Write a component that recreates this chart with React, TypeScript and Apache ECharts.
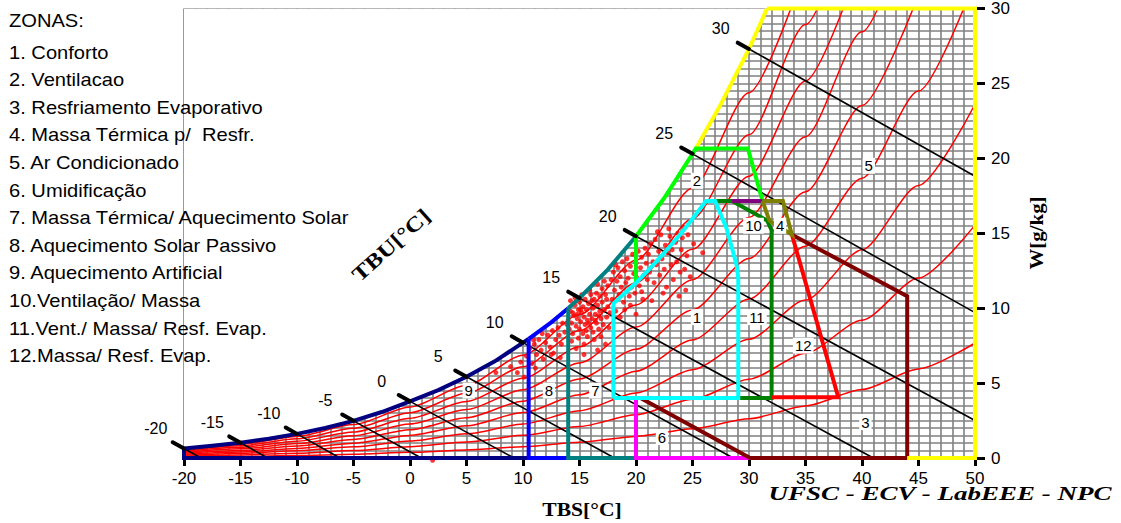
import React, { useEffect, useRef } from "react";
import * as echarts from "echarts";

// ---------- axes ----------
const xMin = -20, xMax = 50, xStep = 5;
const yMin = 0, yMax = 30, yStep = 5;

// ---------- saturation curve (TBS °C, W g/kg) ----------
const satT = [-20, -17.5, -15, -12.5, -10, -7.5, -5, -2.5, 0, 2.5, 5, 7.5, 10, 10.5, 12.5, 14, 15, 17.5, 20, 22.5, 25, 25.3, 27.5, 30, 31.6];
const satW = [0.63, 0.81, 1.02, 1.28, 1.61, 2.0, 2.48, 3.07, 3.78, 4.53, 5.42, 6.45, 7.7, 7.95, 9.05, 10.0, 10.68, 12.57, 14.8, 17.35, 20.3, 20.65, 23.6, 27.3, 30];

// ---------- relative humidity curves ----------
const rhTemps = [-20, -15, -10, -5, 0, 5, 10, 15, 20, 25, 30, 35, 40, 45, 50];
const rhLevels = [10, 20, 30, 40, 50, 60, 70, 80, 90];
const rh10 = [0.063, 0.102, 0.16, 0.248, 0.377, 0.536, 0.755, 1.049, 1.439, 1.952, 2.618, 3.474, 4.566, 5.946, 7.676];
const rh20 = [0.127, 0.203, 0.32, 0.495, 0.754, 1.073, 1.512, 2.101, 2.885, 3.916, 5.258, 6.988, 9.2, 12.007, 15.544];
const rh30 = [0.19, 0.305, 0.48, 0.743, 1.132, 1.611, 2.27, 3.157, 4.338, 5.893, 7.92, 10.541, 13.903, 18.186, 23.611];
const rh40 = [0.254, 0.406, 0.64, 0.99, 1.51, 2.15, 3.031, 4.217, 5.797, 7.882, 10.605, 14.135, 18.677, 24.486, 31.885];
const rh50 = [0.317, 0.508, 0.8, 1.238, 1.888, 2.69, 3.793, 5.28, 7.264, 9.883, 13.313, 17.77, 23.522, 30.912];
const rh60 = [0.38, 0.61, 0.96, 1.486, 2.266, 3.231, 4.557, 6.347, 8.737, 11.898, 16.045, 21.446, 28.442, 37.47];
const rh70 = [0.444, 0.711, 1.12, 1.733, 2.645, 3.772, 5.323, 7.417, 10.217, 13.925, 18.8, 25.165, 33.437];
const rh80 = [0.507, 0.813, 1.28, 1.981, 3.023, 4.315, 6.091, 8.491, 11.704, 15.966, 21.579, 28.927, 38.51];
const rh90 = [0.571, 0.914, 1.44, 2.228, 3.402, 4.859, 6.86, 9.569, 13.198, 18.019, 24.382, 32.733];
const rhCurves = [rh10, rh20, rh30, rh40, rh50, rh60, rh70, rh80, rh90];

// ---------- wet-bulb (TBU) lines ----------
const wbT = [-20, -15, -10, -5, 0, 5, 10, 15, 20, 25, 30];
const wbSatW = [0.63, 1.02, 1.61, 2.48, 3.78, 5.42, 7.7, 10.68, 14.8, 20.3, 27.3];
const wbEndT = [-18.5, -12.6, -6.2, 1.0, 9.2, 18.1, 28.6, 41.0, 50, 50, 50];
const wbEndW = [0, 0, 0, 0, 0, 0, 0, 0, 2.5, 9.7, 18.8];

// ---------- zone outlines ----------
const zoneComfort = [[18, 4], [18, 10.31], [19, 11.0], [20, 11.7], [21, 12.45], [22.5, 13.69], [24, 15.0], [25, 15.97], [26.2, 17.15], [27.0, 17.15], [28.0, 15.35], [28.9, 12.9], [29.05, 12.0], [29.05, 4], [18, 4]];
const zoneVentTop = [[25.3, 20.65], [29.9, 20.65], [31.2, 17.15]];
const zoneVentLeft = [[20, 11.7], [20, 14.8]];
const zoneAcTop = [[31.6, 30], [50, 30], [50, 0], [44, 0]];
const zoneHumid = [[20, 4], [20, 0], [30.1, 0]];
const zoneEvap = [[20.4, 4], [30.1, 0], [44, 0], [44, 10.8], [33.8, 14.9]];
const zoneVentMassEvap = [[27.0, 17.15], [28.5, 17.15], [31.6, 15.85], [32.0, 15.2], [32.0, 4], [29.05, 4]];
const zoneVentMass = [[28.5, 17.15], [31.2, 17.15]];
const zoneMassCool = [[31.2, 17.15], [33.0, 17.15], [33.8, 14.9], [31.8, 15.85], [31.2, 17.15]];
const zoneMassEvap = [[33.8, 14.9], [37.9, 4.05], [32.0, 4.05]];
const zoneArtificialBase = [[10.5, 0], [-20, 0], [-20, 0.63]];
const zonePassiveBase = [[14, 0], [10.5, 0], [10.5, 7.95]];
const zoneSolarBase = [[20, 0], [14, 0], [14, 10.0]];

// ---------- zone labels ----------
const zoneLabelText = ["1", "2", "3", "4", "5", "6", "7", "8", "9", "10", "11", "12"];
const zoneLabelT = [25.4, 25.4, 40.3, 32.75, 40.6, 22.3, 16.4, 12.3, 5.2, 30.4, 30.7, 34.8];
const zoneLabelW = [9.4, 18.5, 2.4, 15.5, 19.5, 1.4, 4.5, 4.5, 4.5, 15.5, 9.4, 7.5];

// ---------- legend ----------
const legendTitle = "ZONAS:";
const zoneNames = [
  "1. Conforto",
  "2. Ventilacao",
  "3. Resfriamento Evaporativo",
  "4. Massa Térmica p/  Resfr.",
  "5. Ar Condicionado",
  "6. Umidificação",
  "7. Massa Térmica/ Aquecimento Solar",
  "8. Aquecimento Solar Passivo",
  "9. Aquecimento Artificial",
  "10.Ventilação/ Massa",
  "11.Vent./ Massa/ Resf. Evap.",
  "12.Massa/ Resf. Evap.",
];

// ---------- climate data points (TBS °C, W g/kg) ----------
const climatePoints: [number, number][] = [
  [2.0, -0.15], [7.6, 5.7], [9.5, 5.7], [8.9, 6.1], [10.1, 5.4], [9.8, 6.4],
  [10.3, 6.8], [10.6, 7.3], [10.8, 6.3], [11.0, 7.6], [11.2, 6.9], [11.4, 7.9], [11.6, 7.2], [11.8, 6.6], [12.0, 7.7], [12.2, 8.2],
  [12.4, 7.4], [12.6, 8.5], [12.7, 7.0], [12.9, 7.9], [13.1, 8.7], [13.2, 8.2], [13.4, 7.6], [13.5, 9.0], [13.7, 8.4], [13.9, 8.9],
  [11.1, 6.0], [12.5, 6.9], [13.3, 6.7], [10.9, 7.9], [11.7, 8.3],
  [14.0, 9.2], [14.1, 8.6], [14.2, 9.8], [14.3, 9.0], [14.4, 8.3], [14.5, 9.5], [14.6, 10.2], [14.7, 8.8], [14.8, 9.3], [14.9, 9.9],
  [15.0, 8.6], [15.0, 10.4], [15.1, 9.1], [15.2, 9.7], [15.3, 8.3], [15.3, 10.1], [15.4, 9.4], [15.5, 8.9], [15.5, 10.6], [15.6, 9.9],
  [15.7, 9.2], [15.7, 8.1], [15.8, 10.3], [15.9, 9.6], [16.0, 8.7], [16.0, 10.9], [16.1, 9.3], [16.2, 10.0], [16.2, 8.4], [16.3, 10.6],
  [16.4, 9.6], [16.5, 9.0], [16.5, 11.0], [16.6, 10.2], [16.7, 8.6], [16.8, 9.8], [16.8, 10.8], [16.9, 9.3], [17.0, 10.4], [17.0, 11.3],
  [17.1, 8.9], [17.2, 9.9], [17.3, 10.9], [17.4, 9.4], [17.5, 11.5], [17.5, 10.1], [17.6, 8.7], [14.3, 7.8], [14.9, 8.0], [15.4, 7.6],
  [16.3, 7.9], [16.9, 8.1], [15.2, 10.9], [14.6, 10.7], [15.9, 11.2], [16.6, 11.6], [14.2, 10.5], [15.6, 8.5], [16.4, 9.2], [17.2, 11.8],
  [14.8, 9.6], [15.8, 9.0], [16.1, 10.5], [17.4, 10.6], [16.7, 9.5], [15.1, 9.9], [14.4, 9.7], [17.7, 9.7],
  [15.4, 6.9], [16.6, 7.2], [17.3, 7.6], [14.7, 7.3],
  [17.8, 11.9], [17.9, 10.6], [18.0, 12.4], [18.1, 11.2], [18.2, 9.8], [18.3, 11.8], [18.4, 12.7], [18.5, 10.9], [18.6, 12.1], [18.7, 11.4],
  [18.8, 13.1], [18.9, 10.4], [19.0, 12.5], [19.1, 11.7], [19.2, 13.3], [19.3, 12.0], [19.4, 10.8], [19.5, 12.8], [19.6, 11.4], [19.7, 13.6],
  [19.8, 12.3], [19.9, 11.0], [20.0, 13.0], [20.1, 12.0], [20.2, 13.8], [20.3, 11.5], [20.4, 12.7], [20.5, 13.4], [20.6, 10.6], [20.7, 12.2],
  [20.8, 14.0], [20.9, 13.0], [21.0, 11.9], [18.2, 12.9], [19.0, 9.9], [19.5, 10.2], [20.0, 9.6], [18.6, 9.4], [20.5, 11.1],
  [21.1, 13.6], [21.2, 12.4], [21.3, 14.3], [21.5, 13.1], [21.6, 11.7], [21.7, 14.6], [21.8, 12.9], [22.0, 13.8], [22.1, 12.2], [22.2, 14.9],
  [22.3, 13.3], [22.5, 12.6], [22.6, 14.2], [22.7, 11.4], [22.8, 13.7], [23.0, 14.8], [23.1, 12.9], [23.2, 13.9], [23.3, 11.9], [23.5, 14.4],
  [23.6, 13.1], [23.7, 15.0], [23.9, 12.4], [24.0, 13.9], [24.1, 14.7], [24.3, 12.6], [24.5, 13.5], [24.6, 14.9], [24.8, 12.1], [25.1, 14.3],
  [25.9, 13.7], [24.4, 11.2], [22.4, 11.0], [23.8, 10.8], [21.4, 10.5], [22.9, 15.3], [24.2, 15.4], [21.9, 15.1],
];

// ---------- colours ----------
const NAVY = "#000080", BLUE = "#0000ff", TEAL = "#008080", GREEN = "#00ff00", CYAN = "#00ffff", YELLOW = "#ffff00";
const MAGENTA = "#ff00ff", DARKRED = "#800000", DARKGREEN = "#008000", PURPLE = "#800080", OLIVE = "#808000", RED = "#ff0000";
const GRID_GRAY = "#808080";

const satRange = (a: number, b: number) =>
  satT.map((t, i) => [t, satW[i]]).filter((p) => p[0] >= a - 1e-9 && p[0] <= b + 1e-9);

const SANS = '"Liberation Sans", Arial, sans-serif';
const SERIF = '"Liberation Serif", "Times New Roman", serif';

function outline(data: number[][], color: string, width = 4) {
  return {
    type: "line",
    data,
    symbol: "none",
    clip: false,
    silent: true,
    lineStyle: { color, width, join: "miter" },
    z: 5,
  };
}

export default function App() {
  const ref = useRef<HTMLDivElement>(null);

  useEffect(() => {
    if (!ref.current) return;
    const chart = echarts.init(ref.current, undefined, { renderer: "svg" });

    const series: any[] = [];

    // white mask above saturation curve
    series.push({
      type: "line",
      data: satT.map((t, i) => [t, satW[i]]),
      symbol: "none",
      silent: true,
      lineStyle: { width: 0, opacity: 0 },
      areaStyle: { color: "#ffffff", opacity: 1, origin: "end" },
      z: 2,
    });

    // RH curves
    rhCurves.forEach((row, k) => {
      series.push({
        type: "line",
        name: "UR " + rhLevels[k] + "%",
        data: row.map((w, j) => [rhTemps[j], w]),
        symbol: "none",
        smooth: 0.25,
        smoothMonotone: "x",
        silent: true,
        lineStyle: { color: RED, width: 1.5 },
        z: 3,
      });
    });

    // wet-bulb lines
    wbT.forEach((t, i) => {
      series.push({
        type: "line",
        data: [[t, wbSatW[i]], [wbEndT[i], wbEndW[i]]],
        symbol: "none",
        silent: true,
        lineStyle: { color: "#000", width: 1.6 },
        z: 3,
      });
    });

    // climate points
    series.push({
      type: "scatter",
      data: climatePoints,
      symbolSize: 5,
      clip: false,
      itemStyle: { color: RED },
      silent: true,
      z: 4,
    });

    // zone outlines
    series.push(outline(satRange(-20, 10.5), NAVY));
    series.push(outline(zoneArtificialBase, NAVY));
    series.push(outline(zonePassiveBase, BLUE));
    series.push(outline(satRange(10.5, 14), BLUE));
    series.push(outline(zoneSolarBase, TEAL));
    series.push(outline(satRange(14, 20), TEAL));
    series.push(outline(zoneHumid, MAGENTA));
    series.push(outline(zoneEvap, DARKRED));
    series.push(outline(zoneAcTop, YELLOW));
    series.push(outline(satRange(25.3, 31.6), YELLOW));
    series.push(outline(zoneVentLeft, GREEN));
    series.push(outline(satRange(20, 25.3).concat(zoneVentTop), GREEN));
    series.push(outline(zoneVentMassEvap, DARKGREEN));
    series.push(outline(zoneMassEvap, RED));
    series.push(outline(zoneComfort, CYAN));
    series.push(outline(zoneVentMass, PURPLE));
    series.push(outline(zoneMassCool, OLIVE));

    // wet-bulb stubs + labels
    series.push({
      type: "custom",
      coordinateSystem: "cartesian2d",
      data: wbT.map((t, i) => [t, wbSatW[i]]),
      silent: true,
      clip: false,
      z: 6,
      renderItem: (params: any, api: any) => {
        const t = api.value(0), w = api.value(1);
        const a = api.coord([t, w]);
        const b = api.coord([t - 1, w + 0.42]);
        const c = api.coord([t - 2.5, w + 1.34]);
        return {
          type: "group",
          children: [
            { type: "line", shape: { x1: a[0], y1: a[1], x2: b[0], y2: b[1] }, style: { stroke: "#000", lineWidth: 4, lineCap: "round" } },
            {
              type: "text",
              x: c[0],
              y: c[1],
              style: {
                text: String(wbT[params.dataIndex]),
                fill: "#000",
                font: `16px ${SANS}`,
                align: "center",
                verticalAlign: "middle",
              },
            },
          ],
        };
      },
    });

    // zone number labels
    series.push({
      type: "custom",
      coordinateSystem: "cartesian2d",
      data: zoneLabelT.map((t, i) => [t, zoneLabelW[i]]),
      silent: true,
      clip: false,
      z: 7,
      renderItem: (params: any, api: any) => {
        const p = api.coord([api.value(0), api.value(1)]);
        return {
          type: "text",
          x: p[0],
          y: p[1],
          style: {
            text: zoneLabelText[params.dataIndex],
            fill: "#000",
            font: `15px ${SANS}`,
            align: "center",
            verticalAlign: "middle",
            backgroundColor: "#ffffff",
            padding: [1, 2, 0, 2],
          },
        };
      },
    });

    const graphic: any[] = [
      {
        type: "text",
        x: 9,
        y: 21,
        z: 100,
        scaleX: 1.15,
        style: { text: legendTitle, fill: "#000", font: `17.5px ${SANS}`, align: "left", verticalAlign: "middle" },
      },
      ...zoneNames.map((n, i) => ({
        type: "text",
        x: 9,
        y: 52.5 + i * 27.6,
        z: 100,
        scaleX: 1.15,
        style: { text: n, fill: "#000", font: `17.5px ${SANS}`, align: "left", verticalAlign: "middle" },
      })),
      {
        type: "text",
        x: 391,
        y: 245,
        z: 100,
        rotation: (42 * Math.PI) / 180,
        scaleX: 1.2,
        style: { text: "TBU[°C]", fill: "#000", font: `bold 21px ${SERIF}`, align: "center", verticalAlign: "middle" },
      },
      {
        type: "text",
        x: 582,
        y: 510,
        z: 100,
        scaleX: 1.2,
        style: { text: "TBS[°C]", fill: "#000", font: `bold 18px ${SERIF}`, align: "center", verticalAlign: "middle" },
      },
      {
        type: "text",
        x: 1037,
        y: 233,
        z: 100,
        rotation: Math.PI / 2,
        scaleX: 1.16,
        style: { text: "W[g/kg]", fill: "#000", font: `bold 18px ${SERIF}`, align: "center", verticalAlign: "middle" },
      },
      {
        type: "text",
        x: 940,
        y: 494,
        z: 100,
        scaleX: 1.5,
        style: { text: "UFSC - ECV - LabEEE - NPC", fill: "#000", font: `italic bold 18px ${SERIF}`, align: "center", verticalAlign: "middle" },
      },
    ];

    chart.setOption({
      animation: false,
      backgroundColor: "#ffffff",
      grid: { left: 184, right: 146, top: 6, bottom: 65, containLabel: false },
      xAxis: {
        type: "value",
        min: xMin,
        max: xMax,
        interval: xStep,
        axisLine: { show: false, onZero: false },
        axisTick: { show: true, length: 8, lineStyle: { color: "#000", width: 3 } },
        axisLabel: { color: "#000", fontSize: 17, fontFamily: SANS, margin: 12 },
        splitLine: { show: true, lineStyle: { color: GRID_GRAY, width: 1.6 } },
        minorTick: { show: false, splitNumber: 5 },
        minorSplitLine: { show: true, lineStyle: { color: GRID_GRAY, width: 1.6 } },
      },
      yAxis: {
        type: "value",
        position: "right",
        min: yMin,
        max: yMax,
        interval: yStep,
        axisLine: { show: false, onZero: false },
        axisTick: { show: true, length: 10, lineStyle: { color: "#000", width: 3 } },
        axisLabel: { color: "#000", fontSize: 17, fontFamily: SANS, margin: 16 },
        splitLine: { show: true, lineStyle: { color: GRID_GRAY, width: 1.6 } },
        minorTick: { show: false, splitNumber: 10 },
        minorSplitLine: { show: true, lineStyle: { color: GRID_GRAY, width: 1.6 } },
      },
      series,
      graphic,
    });

    return () => chart.dispose();
  }, []);

  return (
    <div
      ref={ref}
      style={{ position: "absolute", left: 0, top: 0, width: 1121, height: 523, background: "#fff" }}
    />
  );
}
